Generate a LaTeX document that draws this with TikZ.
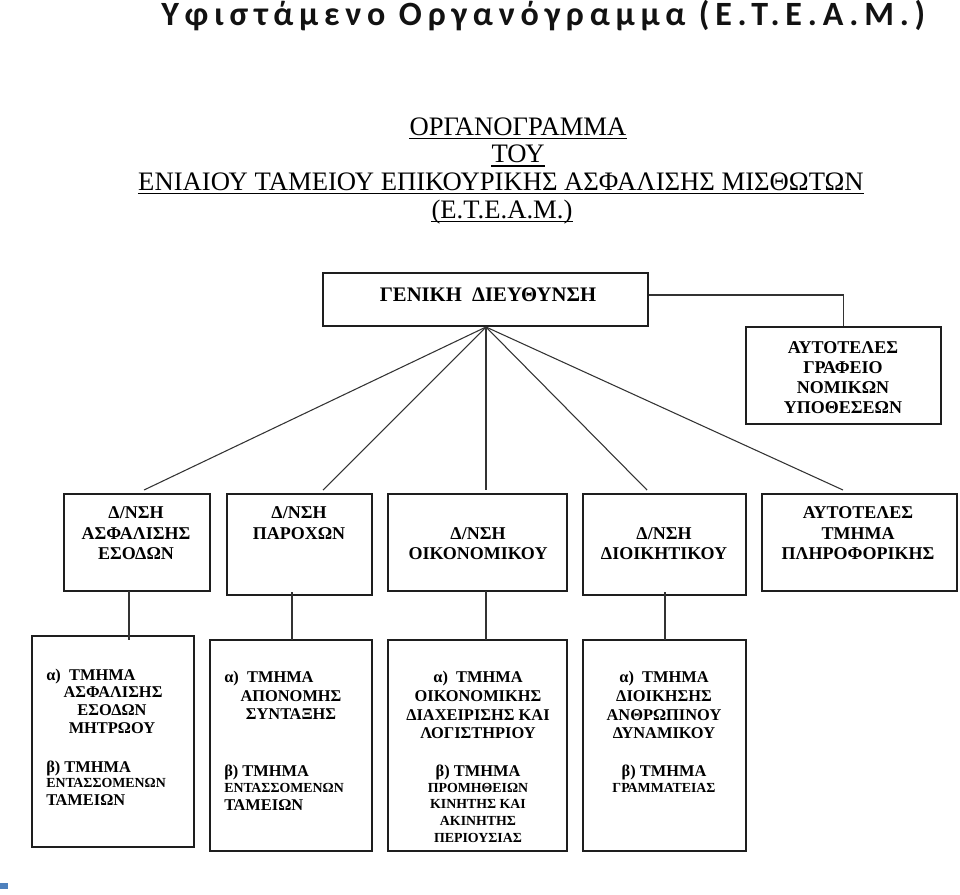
\documentclass[tikz,border=0pt]{standalone}
\usepackage{fontspec}
\setmainfont{Liberation Serif}
\newfontfamily\titlefont{Carlito}[LetterSpace=17]
\definecolor{boxline}{HTML}{1E1E1E}
\definecolor{conline}{HTML}{333333}
\definecolor{markblue}{HTML}{4F81BD}
\newcommand\boxat[5]{\node[orgbox, minimum width={(#4-#2)*0.75pt}, minimum height={(#5-#3)*0.75pt}] (#1) at ({(#2+#4)/2},{(#3+#5)/2}) {};}
\tikzset{
  orgbox/.style={draw=boxline, line width=1.1pt, inner sep=0pt, fill=white},
  conn/.style={draw=conline, line width=0.8pt},
  hdr/.style={anchor=base, inner sep=0pt, font=\fontsize{20}{24}\selectfont},
  ul/.style={draw=black, line width=1.4pt},
  toptxt/.style={anchor=base, inner sep=0pt, font=\bfseries\fontsize{15.5}{18}\selectfont},
  mtxt/.style={anchor=base, inner sep=0pt, font=\bfseries\fontsize{13.5}{16}\selectfont},
  btxt/.style={anchor=base, inner sep=0pt, font=\bfseries\fontsize{12.3}{15}\selectfont},
  btxtl/.style={btxt, anchor=base west},
  stxt/.style={anchor=base, inner sep=0pt, font=\bfseries\fontsize{10.4}{12}\selectfont},
  stxtl/.style={stxt, anchor=base west},
}
\begin{document}
\begin{tikzpicture}[x=0.75pt,y=-0.75pt]
\useasboundingbox (0,0) rectangle (960,894);

% title
\node[anchor=base west, inner sep=0pt, text=black!93] (title) at (161,25)
  {\titlefont\bfseries\fontsize{25.5}{29}\selectfont Υφιστάμενο Οργανόγραμμα (Ε.Τ.Ε.Α.Μ.)};

% header
\node[hdr] (h1) at (518,135) {ΟΡΓΑΝΟΓΡΑΜΜΑ};
\node[hdr] (h2) at (518,162.5) {ΤΟΥ};
\node[hdr] (h3) at (501,190) {ΕΝΙΑΙΟΥ ΤΑΜΕΙΟΥ ΕΠΙΚΟΥΡΙΚΗΣ ΑΣΦΑΛΙΣΗΣ ΜΙΣΘΩΤΩΝ};
\node[hdr] (h4) at (502,218) {(Ε.Τ.Ε.Α.Μ.)};
\foreach \h in {h1,h2,h3,h4}{
  \draw[ul] ([yshift=-2.6pt]\h.base west) -- ([yshift=-2.6pt]\h.base east);
}

% boxes
\boxat{g}{323}{273}{648}{326}
\boxat{r}{746}{327}{941}{424}
\boxat{m1}{64}{494}{210}{591}
\boxat{m2}{227}{494}{372}{595}
\boxat{m3}{388}{494}{567}{591}
\boxat{m4}{583}{494}{746}{595}
\boxat{m5}{762}{494}{957}{591}
\boxat{b1}{32}{636}{194}{847}
\boxat{b2}{210}{640}{372}{851}
\boxat{b3}{388}{640}{567}{851}
\boxat{b4}{583}{640}{746}{851}

% connectors
\draw[conn] ([yshift=3.4pt]g.east) -| (r.north);
\coordinate (f1) at (144,490);
\coordinate (f2) at (323,490);
\coordinate (f3) at (486,490);
\coordinate (f4) at (647,490);
\coordinate (f5) at (843,490);
\coordinate (go) at (486,327);
\foreach \f in {f1,f2,f3,f4,f5}{ \draw[conn] (go) -- (\f); }
\coordinate (v1a) at (129,591); \coordinate (v1b) at (129,640);
\coordinate (v2a) at (292,592); \coordinate (v2b) at (292,640);
\coordinate (v3a) at (486,591); \coordinate (v3b) at (486,640);
\coordinate (v4a) at (665,592); \coordinate (v4b) at (665,640);
\draw[conn] (v1a) -- (v1b);
\draw[conn] (v2a) -- (v2b);
\draw[conn] (v3a) -- (v3b);
\draw[conn] (v4a) -- (v4b);

% top box texts
\node[toptxt] (gt) at (488,301) {ΓΕΝΙΚΗ\ \ ΔΙΕΥΘΥΝΣΗ};
\node[mtxt] (rt1) at (843,353) {ΑΥΤΟΤΕΛΕΣ};
\node[mtxt] (rt2) at (843,373) {ΓΡΑΦΕΙΟ};
\node[mtxt] (rt3) at (843,393) {ΝΟΜΙΚΩΝ};
\node[mtxt] (rt4) at (843,413) {ΥΠΟΘΕΣΕΩΝ};

% middle row texts
\node[mtxt] (m1t1) at (136,518) {Δ/ΝΣΗ};
\node[mtxt] (m1t2) at (136,539) {ΑΣΦΑΛΙΣΗΣ};
\node[mtxt] (m1t3) at (136,559) {ΕΣΟΔΩΝ};
\node[mtxt] (m2t1) at (299,518) {Δ/ΝΣΗ};
\node[mtxt] (m2t2) at (299,539) {ΠΑΡΟΧΩΝ};
\node[mtxt] (m3t1) at (478,539) {Δ/ΝΣΗ};
\node[mtxt] (m3t2) at (478,559) {ΟΙΚΟΝΟΜΙΚΟΥ};
\node[mtxt] (m4t1) at (664,539) {Δ/ΝΣΗ};
\node[mtxt] (m4t2) at (664,559) {ΔΙΟΙΚΗΤΙΚΟΥ};
\node[mtxt] (m5t1) at (858,518) {ΑΥΤΟΤΕΛΕΣ};
\node[mtxt] (m5t2) at (858,539) {ΤΜΗΜΑ};
\node[mtxt] (m5t3) at (858,559) {ΠΛΗΡΟΦΟΡΙΚΗΣ};

% bottom row texts
\node[btxtl] (b1t1) at (46,680) {α)\ \ ΤΜΗΜΑ};
\node[btxt]  (b1t2) at (113,697) {ΑΣΦΑΛΙΣΗΣ};
\node[btxt]  (b1t3) at (112,715) {ΕΣΟΔΩΝ};
\node[btxt]  (b1t4) at (112,733) {ΜΗΤΡΩΟΥ};
\node[btxtl] (b1t5) at (46,772) {β) ΤΜΗΜΑ};
\node[stxtl] (b1t6) at (46,787) {ΕΝΤΑΣΣΟΜΕΝΩΝ};
\node[btxtl] (b1t7) at (46,805) {ΤΑΜΕΙΩΝ};

\node[btxtl] (b2t1) at (224,682) {α)\ \ ΤΜΗΜΑ};
\node[btxt]  (b2t2) at (291,701) {ΑΠΟΝΟΜΗΣ};
\node[btxt]  (b2t3) at (291,719) {ΣΥΝΤΑΞΗΣ};
\node[btxtl] (b2t4) at (224,776) {β) ΤΜΗΜΑ};
\node[stxtl] (b2t5) at (224,792) {ΕΝΤΑΣΣΟΜΕΝΩΝ};
\node[btxtl] (b2t6) at (224,810) {ΤΑΜΕΙΩΝ};

\node[btxt] (b3t1) at (478,682) {α)\ \ ΤΜΗΜΑ};
\node[btxt] (b3t2) at (478,701) {ΟΙΚΟΝΟΜΙΚΗΣ};
\node[btxt] (b3t3) at (478,720) {ΔΙΑΧΕΙΡΙΣΗΣ ΚΑΙ};
\node[btxt] (b3t4) at (478,738) {ΛΟΓΙΣΤΗΡΙΟΥ};
\node[btxt] (b3t5) at (478,776) {β) ΤΜΗΜΑ};
\node[stxt] (b3t6) at (478,792) {ΠΡΟΜΗΘΕΙΩΝ};
\node[stxt] (b3t7) at (478,808) {ΚΙΝΗΤΗΣ ΚΑΙ};
\node[stxt] (b3t8) at (478,825) {ΑΚΙΝΗΤΗΣ};
\node[stxt] (b3t9) at (478,842) {ΠΕΡΙΟΥΣΙΑΣ};

\node[btxt] (b4t1) at (664,682) {α)\ \ ΤΜΗΜΑ};
\node[btxt] (b4t2) at (664,701) {ΔΙΟΙΚΗΣΗΣ};
\node[btxt] (b4t3) at (664,720) {ΑΝΘΡΩΠΙΝΟΥ};
\node[btxt] (b4t4) at (664,738) {ΔΥΝΑΜΙΚΟΥ};
\node[btxt] (b4t5) at (664,776) {β) ΤΜΗΜΑ};
\node[stxt] (b4t6) at (664,792) {ΓΡΑΜΜΑΤΕΙΑΣ};

% small blue mark
\fill[markblue] (0,883) rectangle (8,889);
\end{tikzpicture}
\end{document}
